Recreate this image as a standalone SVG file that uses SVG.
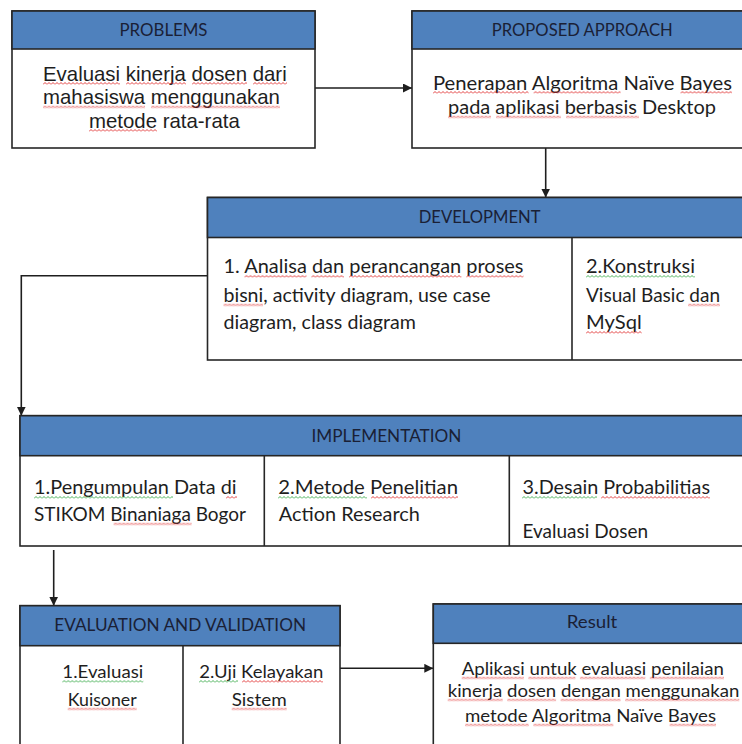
<svg xmlns="http://www.w3.org/2000/svg" width="742" height="744" viewBox="0 0 742 744">
<style>
.box{fill:#fff;stroke:#262626;stroke-width:1.6}
.hdr{fill:#4f81bd;stroke:#262626;stroke-width:1.6}
.div{stroke:#262626;stroke-width:1.6;fill:none}
.ht{font-family:Lato,"Open Sans",sans-serif;font-size:17.6px;fill:#1a2035;text-anchor:middle}
.bt{font-family:Lato,"Open Sans",sans-serif;fill:#1e1e1e}
.at{font-family:"Liberation Sans",Arial,sans-serif;font-size:20.4px;fill:#1e1e1e}
.con{stroke:#1e1e1e;stroke-width:1.6;fill:none}
.r{fill:url(#sqR)}
.g{fill:url(#sqG)}
</style>
<defs>
<pattern id="sqR" width="4" height="3" patternUnits="userSpaceOnUse">
<polyline points="0,2.5 2,0.5 4,2.5" fill="none" stroke="#e02a2a" stroke-width="0.9"/>
</pattern>
<pattern id="sqG" width="4" height="3" patternUnits="userSpaceOnUse">
<polyline points="0,2.5 2,0.5 4,2.5" fill="none" stroke="#35a845" stroke-width="0.9"/>
</pattern>
<marker id="arr" viewBox="0 0 10 10" refX="10" refY="5" markerWidth="9" markerHeight="9" markerUnits="userSpaceOnUse" orient="auto">
<path d="M0,0 L10,5 L0,10 Z" fill="#1e1e1e"/>
</marker>
</defs>

<g id="connectors">
<line class="con" x1="315" y1="88" x2="412" y2="88" marker-end="url(#arr)"/>
<line class="con" x1="545.7" y1="148" x2="545.7" y2="197.5" marker-end="url(#arr)"/>
<polyline class="con" points="207.5,275.7 21.3,275.7 21.3,415.7" marker-end="url(#arr)"/>
<line class="con" x1="53.7" y1="550" x2="53.7" y2="605.7" marker-end="url(#arr)"/>
<line class="con" x1="340" y1="668.3" x2="433.3" y2="668.3" marker-end="url(#arr)"/>
</g>

<g id="problems">
<rect class="box" x="12" y="11" width="303" height="137"/>
<rect class="hdr" x="12" y="11" width="303" height="38"/>
<text class="ht" x="163.5" y="36" textLength="88" lengthAdjust="spacingAndGlyphs">PROBLEMS</text>
<text class="at" x="43" y="80.5">Evaluasi kinerja dosen dari</text>
<text class="at" x="43" y="104">mahasiswa menggunakan</text>
<text class="at" x="89" y="127.5">metode rata-rata</text>
<rect class="r" width="77" height="3" transform="translate(43,82)"/>
<rect class="r" width="60" height="3" transform="translate(126,82)"/>
<rect class="r" width="55" height="3" transform="translate(192,82)"/>
<rect class="r" width="34" height="3" transform="translate(253,82)"/>
<rect class="r" width="102" height="3" transform="translate(43,105.5)"/>
<rect class="r" width="129" height="3" transform="translate(151,105.5)"/>
<rect class="r" width="68" height="3" transform="translate(89,129)"/>
</g>

<g id="proposed">
<rect class="box" x="412" y="11" width="340" height="137"/>
<rect class="hdr" x="412" y="11" width="340" height="38"/>
<text class="ht" x="582.3" y="36" textLength="181" lengthAdjust="spacingAndGlyphs">PROPOSED APPROACH</text>
<text class="bt" x="433" y="89.5" font-size="19.6" textLength="299" lengthAdjust="spacingAndGlyphs">Penerapan Algoritma Naïve Bayes</text>
<text class="bt" x="448" y="114" font-size="19.6" textLength="268" lengthAdjust="spacingAndGlyphs">pada aplikasi berbasis Desktop</text>
<rect class="r" width="95.6" height="3" transform="translate(433,91)"/>
<rect class="r" width="87" height="3" transform="translate(533.6,91)"/>
<rect class="r" width="51.5" height="3" transform="translate(680.5,91)"/>
<rect class="r" width="43" height="3" transform="translate(448,115.5)"/>
<rect class="r" width="65" height="3" transform="translate(496,115.5)"/>
<rect class="r" width="73" height="3" transform="translate(566,115.5)"/>
</g>

<g id="development">
<rect class="box" x="207.5" y="197.5" width="544.5" height="162.5"/>
<rect class="hdr" x="207.5" y="197.5" width="544.5" height="40"/>
<line class="div" x1="572" y1="237.5" x2="572" y2="360"/>
<text class="ht" x="479.6" y="223.3" textLength="121.7" lengthAdjust="spacingAndGlyphs">DEVELOPMENT</text>
<text class="bt" x="223.5" y="273.3" font-size="19.1" textLength="300" lengthAdjust="spacingAndGlyphs">1. Analisa dan perancangan proses</text>
<text class="bt" x="223.5" y="301.7" font-size="19.1" textLength="267" lengthAdjust="spacingAndGlyphs">bisni, activity diagram, use case</text>
<text class="bt" x="223.5" y="329.3" font-size="19.1" textLength="192.5" lengthAdjust="spacingAndGlyphs">diagram, class diagram</text>
<text class="bt" x="586" y="273.3" font-size="19.1" textLength="109" lengthAdjust="spacingAndGlyphs">2.Konstruksi</text>
<text class="bt" x="586" y="301.7" font-size="19.1" textLength="134" lengthAdjust="spacingAndGlyphs">Visual Basic dan</text>
<text class="bt" x="586" y="329.3" font-size="19.1" textLength="55.7" lengthAdjust="spacingAndGlyphs">MySql</text>
<rect class="r" width="62" height="3" transform="translate(244.5,275)"/>
<rect class="r" width="32.6" height="3" transform="translate(311.4,275)"/>
<rect class="r" width="112.4" height="3" transform="translate(349,275)"/>
<rect class="r" width="57.2" height="3" transform="translate(466.3,275)"/>
<rect class="r" width="39.5" height="3" transform="translate(223.5,303.5)"/>
<rect class="g" width="109" height="3" transform="translate(586,275)"/>
<rect class="r" width="32" height="3" transform="translate(688,303.5)"/>
<rect class="r" width="55.7" height="3" transform="translate(586,331)"/>
</g>

<g id="implementation">
<rect class="box" x="20" y="415.7" width="732" height="130.3"/>
<rect class="hdr" x="20" y="415.7" width="732" height="40"/>
<line class="div" x1="264.3" y1="455.7" x2="264.3" y2="546"/>
<line class="div" x1="509.3" y1="455.7" x2="509.3" y2="546"/>
<text class="ht" x="386.4" y="441.7" textLength="150" lengthAdjust="spacingAndGlyphs">IMPLEMENTATION</text>
<text class="bt" x="34" y="494.3" font-size="19.2" textLength="202.6" lengthAdjust="spacingAndGlyphs">1.Pengumpulan Data di</text>
<text class="bt" x="34" y="520.7" font-size="19.2" textLength="212" lengthAdjust="spacingAndGlyphs">STIKOM Binaniaga Bogor</text>
<text class="bt" x="278.3" y="494.3" font-size="19.2" textLength="179.7" lengthAdjust="spacingAndGlyphs">2.Metode Penelitian</text>
<text class="bt" x="278.8" y="520.7" font-size="19.2" textLength="141" lengthAdjust="spacingAndGlyphs">Action Research</text>
<text class="bt" x="522.5" y="494.3" font-size="19.2" textLength="187.5" lengthAdjust="spacingAndGlyphs">3.Desain Probabilitias</text>
<text class="bt" x="522.5" y="538.3" font-size="19.2" textLength="125.5" lengthAdjust="spacingAndGlyphs">Evaluasi Dosen</text>
<rect class="g" width="139" height="3" transform="translate(34,496)"/>
<rect class="r" width="11" height="3" transform="translate(226,496)"/>
<rect class="r" width="78" height="3" transform="translate(113.6,522.5)"/>
<rect class="g" width="89" height="3" transform="translate(278,496)"/>
<rect class="r" width="87" height="3" transform="translate(371,496)"/>
<rect class="g" width="75" height="3" transform="translate(522,496)"/>
<rect class="r" width="109" height="3" transform="translate(601,496)"/>
</g>

<g id="evaluation">
<rect class="box" x="20" y="605.7" width="320" height="160"/>
<rect class="hdr" x="20" y="605.7" width="320" height="40"/>
<line class="div" x1="183" y1="645.7" x2="183" y2="765"/>
<text class="ht" x="180.2" y="631" textLength="251.7" lengthAdjust="spacingAndGlyphs">EVALUATION AND VALIDATION</text>
<text class="bt" x="62.3" y="678.3" font-size="18.1" textLength="81" lengthAdjust="spacingAndGlyphs">1.Evaluasi</text>
<text class="bt" x="67.7" y="705.7" font-size="18.1" textLength="69" lengthAdjust="spacingAndGlyphs">Kuisoner</text>
<text class="bt" x="199.3" y="678.3" font-size="18.1" textLength="124" lengthAdjust="spacingAndGlyphs">2.Uji Kelayakan</text>
<text class="bt" x="231.7" y="705.7" font-size="18.1" textLength="55" lengthAdjust="spacingAndGlyphs">Sistem</text>
<rect class="g" width="81" height="3" transform="translate(62.3,680)"/>
<rect class="r" width="69" height="3" transform="translate(67.7,707.5)"/>
<rect class="g" width="39" height="3" transform="translate(199,680)"/>
<rect class="r" width="81" height="3" transform="translate(242,680)"/>
<rect class="r" width="55" height="3" transform="translate(231.7,707.5)"/>
</g>

<g id="result">
<rect class="box" x="433.3" y="604" width="318.7" height="160"/>
<rect class="hdr" x="433.3" y="604" width="318.7" height="39.3"/>
<text class="ht" x="592" y="628.3" textLength="50.6" lengthAdjust="spacingAndGlyphs">Result</text>
<text class="bt" x="461.7" y="675" font-size="17.9" textLength="262.3" lengthAdjust="spacingAndGlyphs">Aplikasi untuk evaluasi penilaian</text>
<text class="bt" x="447.7" y="697" font-size="17.9" textLength="291.6" lengthAdjust="spacingAndGlyphs">kinerja dosen dengan menggunakan</text>
<text class="bt" x="465" y="722" font-size="17.9" textLength="251" lengthAdjust="spacingAndGlyphs">metode Algoritma Naïve Bayes</text>
<rect class="r" width="62.1" height="3" transform="translate(461.7,676.5)"/>
<rect class="r" width="47.1" height="3" transform="translate(528.3,676.5)"/>
<rect class="r" width="65.4" height="3" transform="translate(579.9,676.5)"/>
<rect class="r" width="74.2" height="3" transform="translate(649.8,676.5)"/>
<rect class="r" width="55" height="3" transform="translate(447.7,698.5)"/>
<rect class="r" width="48.9" height="3" transform="translate(507.2,698.5)"/>
<rect class="r" width="60" height="3" transform="translate(560.6,698.5)"/>
<rect class="r" width="114.2" height="3" transform="translate(625.1,698.5)"/>
<rect class="r" width="63.8" height="3" transform="translate(465,723.5)"/>
<rect class="r" width="80.1" height="3" transform="translate(533.3,723.5)"/>
<rect class="r" width="46.4" height="3" transform="translate(669.6,723.5)"/>
</g>
</svg>
